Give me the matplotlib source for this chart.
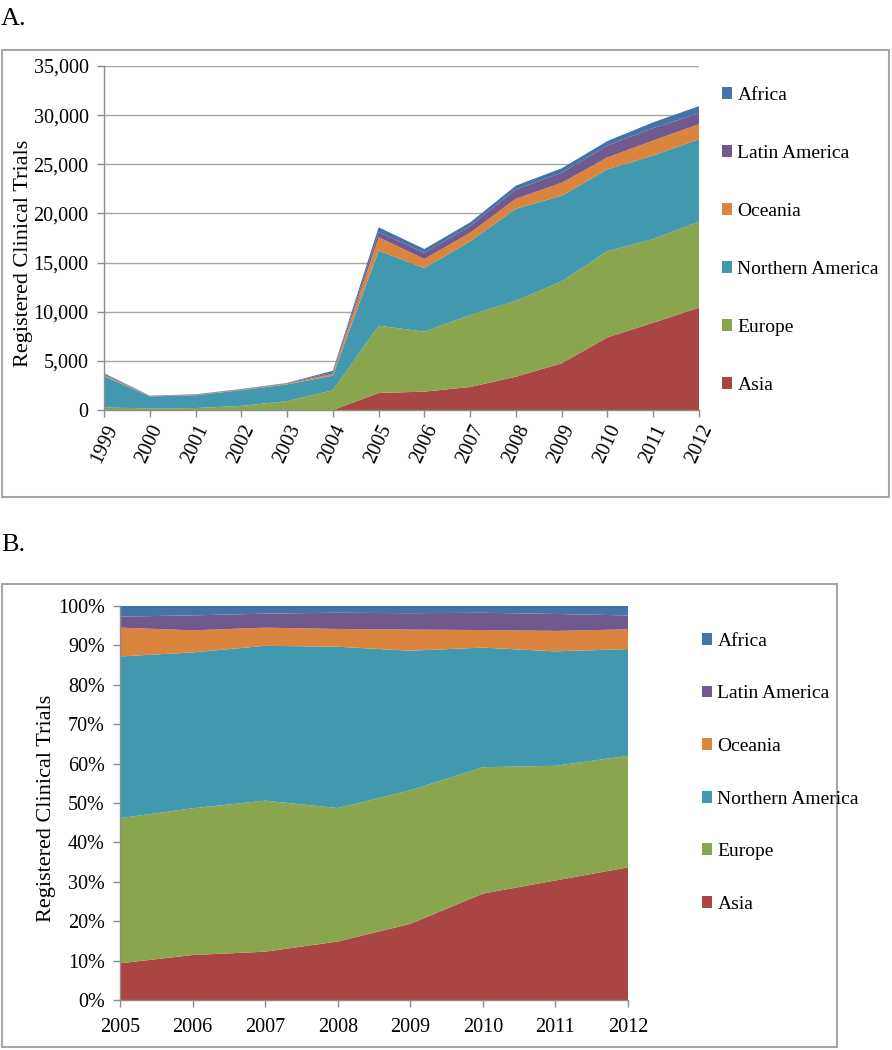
import numpy as np
import matplotlib
matplotlib.use("Agg")
import matplotlib.pyplot as plt
from matplotlib.patches import Rectangle, Patch
from matplotlib.ticker import FuncFormatter

plt.rcParams['font.family'] = ['Liberation Serif', 'DejaVu Serif']

# data (registered clinical trials per region and year)
years = [1999, 2000, 2001, 2002, 2003, 2004, 2005, 2006, 2007, 2008, 2009, 2010, 2011, 2012]
regions = ["Asia", "Europe", "Northern America", "Oceania", "Latin America", "Africa"]
asia = [0, 0, 0, 0, 0, 0, 1730, 1870, 2340, 3390, 4750, 7390, 8880, 10410]
europe = [250, 170, 200, 420, 900, 2000, 6850, 6100, 7320, 7730, 8340, 8780, 8520, 8750]
north_america = [3200, 1210, 1300, 1600, 1700, 1500, 7630, 6480, 7500, 9350, 8710, 8310, 8500, 8380]
oceania = [120, 30, 40, 50, 60, 200, 1360, 920, 880, 1030, 1320, 1220, 1520, 1550]
latin_america = [100, 30, 40, 40, 50, 150, 520, 620, 680, 940, 1020, 1200, 1260, 1090]
africa = [80, 20, 20, 30, 40, 150, 500, 390, 370, 390, 450, 470, 590, 740]
colors = ["#A94543", "#89A54E", "#4198AF", "#DB843D", "#71588F", "#4572A7"]

series = np.array([asia, europe, north_america, oceania, latin_america, africa], dtype=float)

# panel B: share of trials, 2005 onwards
years_b = years[6:]
share = series[:, 6:] / series[:, 6:].sum(axis=0) * 100

W, H = 892, 1050
fig = plt.figure(figsize=(W / 100, H / 100), dpi=100)


def px(x0, y0, x1, y1):
    return [x0 / W, 1 - y1 / H, (x1 - x0) / W, (y1 - y0) / H]


grey = "#A6A6A6"
for x0, y0, x1, y1 in [(2, 50, 889, 497), (2, 584, 837, 1047)]:
    fig.patches.append(Rectangle((x0 / W, 1 - y1 / H), (x1 - x0) / W, (y1 - y0) / H,
                                 transform=fig.transFigure, fill=False, edgecolor=grey, lw=1.5))

fig.text(1 / W, 1 - 19 / H, "A.", fontsize=19, va="center", ha="left")
fig.text(1 / W, 1 - 545 / H, "B.", fontsize=19, va="center", ha="left")


def style_axes(ax, label_x, label_y):
    for s in ["top", "right"]:
        ax.spines[s].set_visible(False)
    for s in ["left", "bottom"]:
        ax.spines[s].set_color("#8C8C8C")
        ax.spines[s].set_linewidth(1.0)
    ax.tick_params(axis="both", direction="out", length=5, color="#8C8C8C",
                   labelsize=14.5, width=1.0)
    ax.set_ylabel("Registered Clinical Trials", fontsize=16)
    ax.yaxis.set_label_coords(label_x / W, 1 - label_y / H, transform=fig.transFigure)


# ---- panel A ----
ax1 = fig.add_axes(px(104, 66, 699, 410))
ax1.stackplot(years, series, colors=colors, lw=0)
ax1.set_xlim(1999, 2012)
ax1.set_ylim(0, 35000)
ax1.set_yticks(np.arange(0, 35001, 5000))
ax1.yaxis.set_major_formatter(FuncFormatter(lambda v, p: f"{int(v):,}"))
ax1.set_xticks(years)
ax1.set_xticklabels([str(y) for y in years], rotation=65, ha="right",
                    rotation_mode="anchor")
ax1.tick_params(axis="y", pad=6)
ax1.grid(axis="y", color=grey, lw=1.0)
ax1.set_axisbelow(True)
style_axes(ax1, 33, 253)

handles = [Patch(facecolor=c, edgecolor="none") for c in colors][::-1]
fig.legend(handles, regions[::-1], loc="upper left", bbox_to_anchor=(714 / W, 1 - 79 / H),
           frameon=False, fontsize=14, handlelength=0.55, handleheight=0.55,
           handletextpad=0.25, labelspacing=2.11, borderaxespad=0)

# ---- panel B ----
ax2 = fig.add_axes(px(120, 606, 628, 1000))
ax2.stackplot(years_b, share, colors=colors, lw=0)
ax2.set_xlim(2005, 2012)
ax2.set_ylim(0, 100)
ax2.set_yticks(np.arange(0, 101, 10))
ax2.yaxis.set_major_formatter(FuncFormatter(lambda v, p: f"{int(v)}%"))
ax2.set_xticks(years_b)
ax2.tick_params(axis="x", pad=8)
ax2.tick_params(axis="y", pad=6)
style_axes(ax2, 56, 808)

fig.legend(handles, regions[::-1], loc="upper left", bbox_to_anchor=(694 / W, 1 - 625 / H),
           frameon=False, fontsize=14, handlelength=0.55, handleheight=0.55,
           handletextpad=0.25, labelspacing=1.83, borderaxespad=0)

fig.savefig("out.png", dpi=100)
